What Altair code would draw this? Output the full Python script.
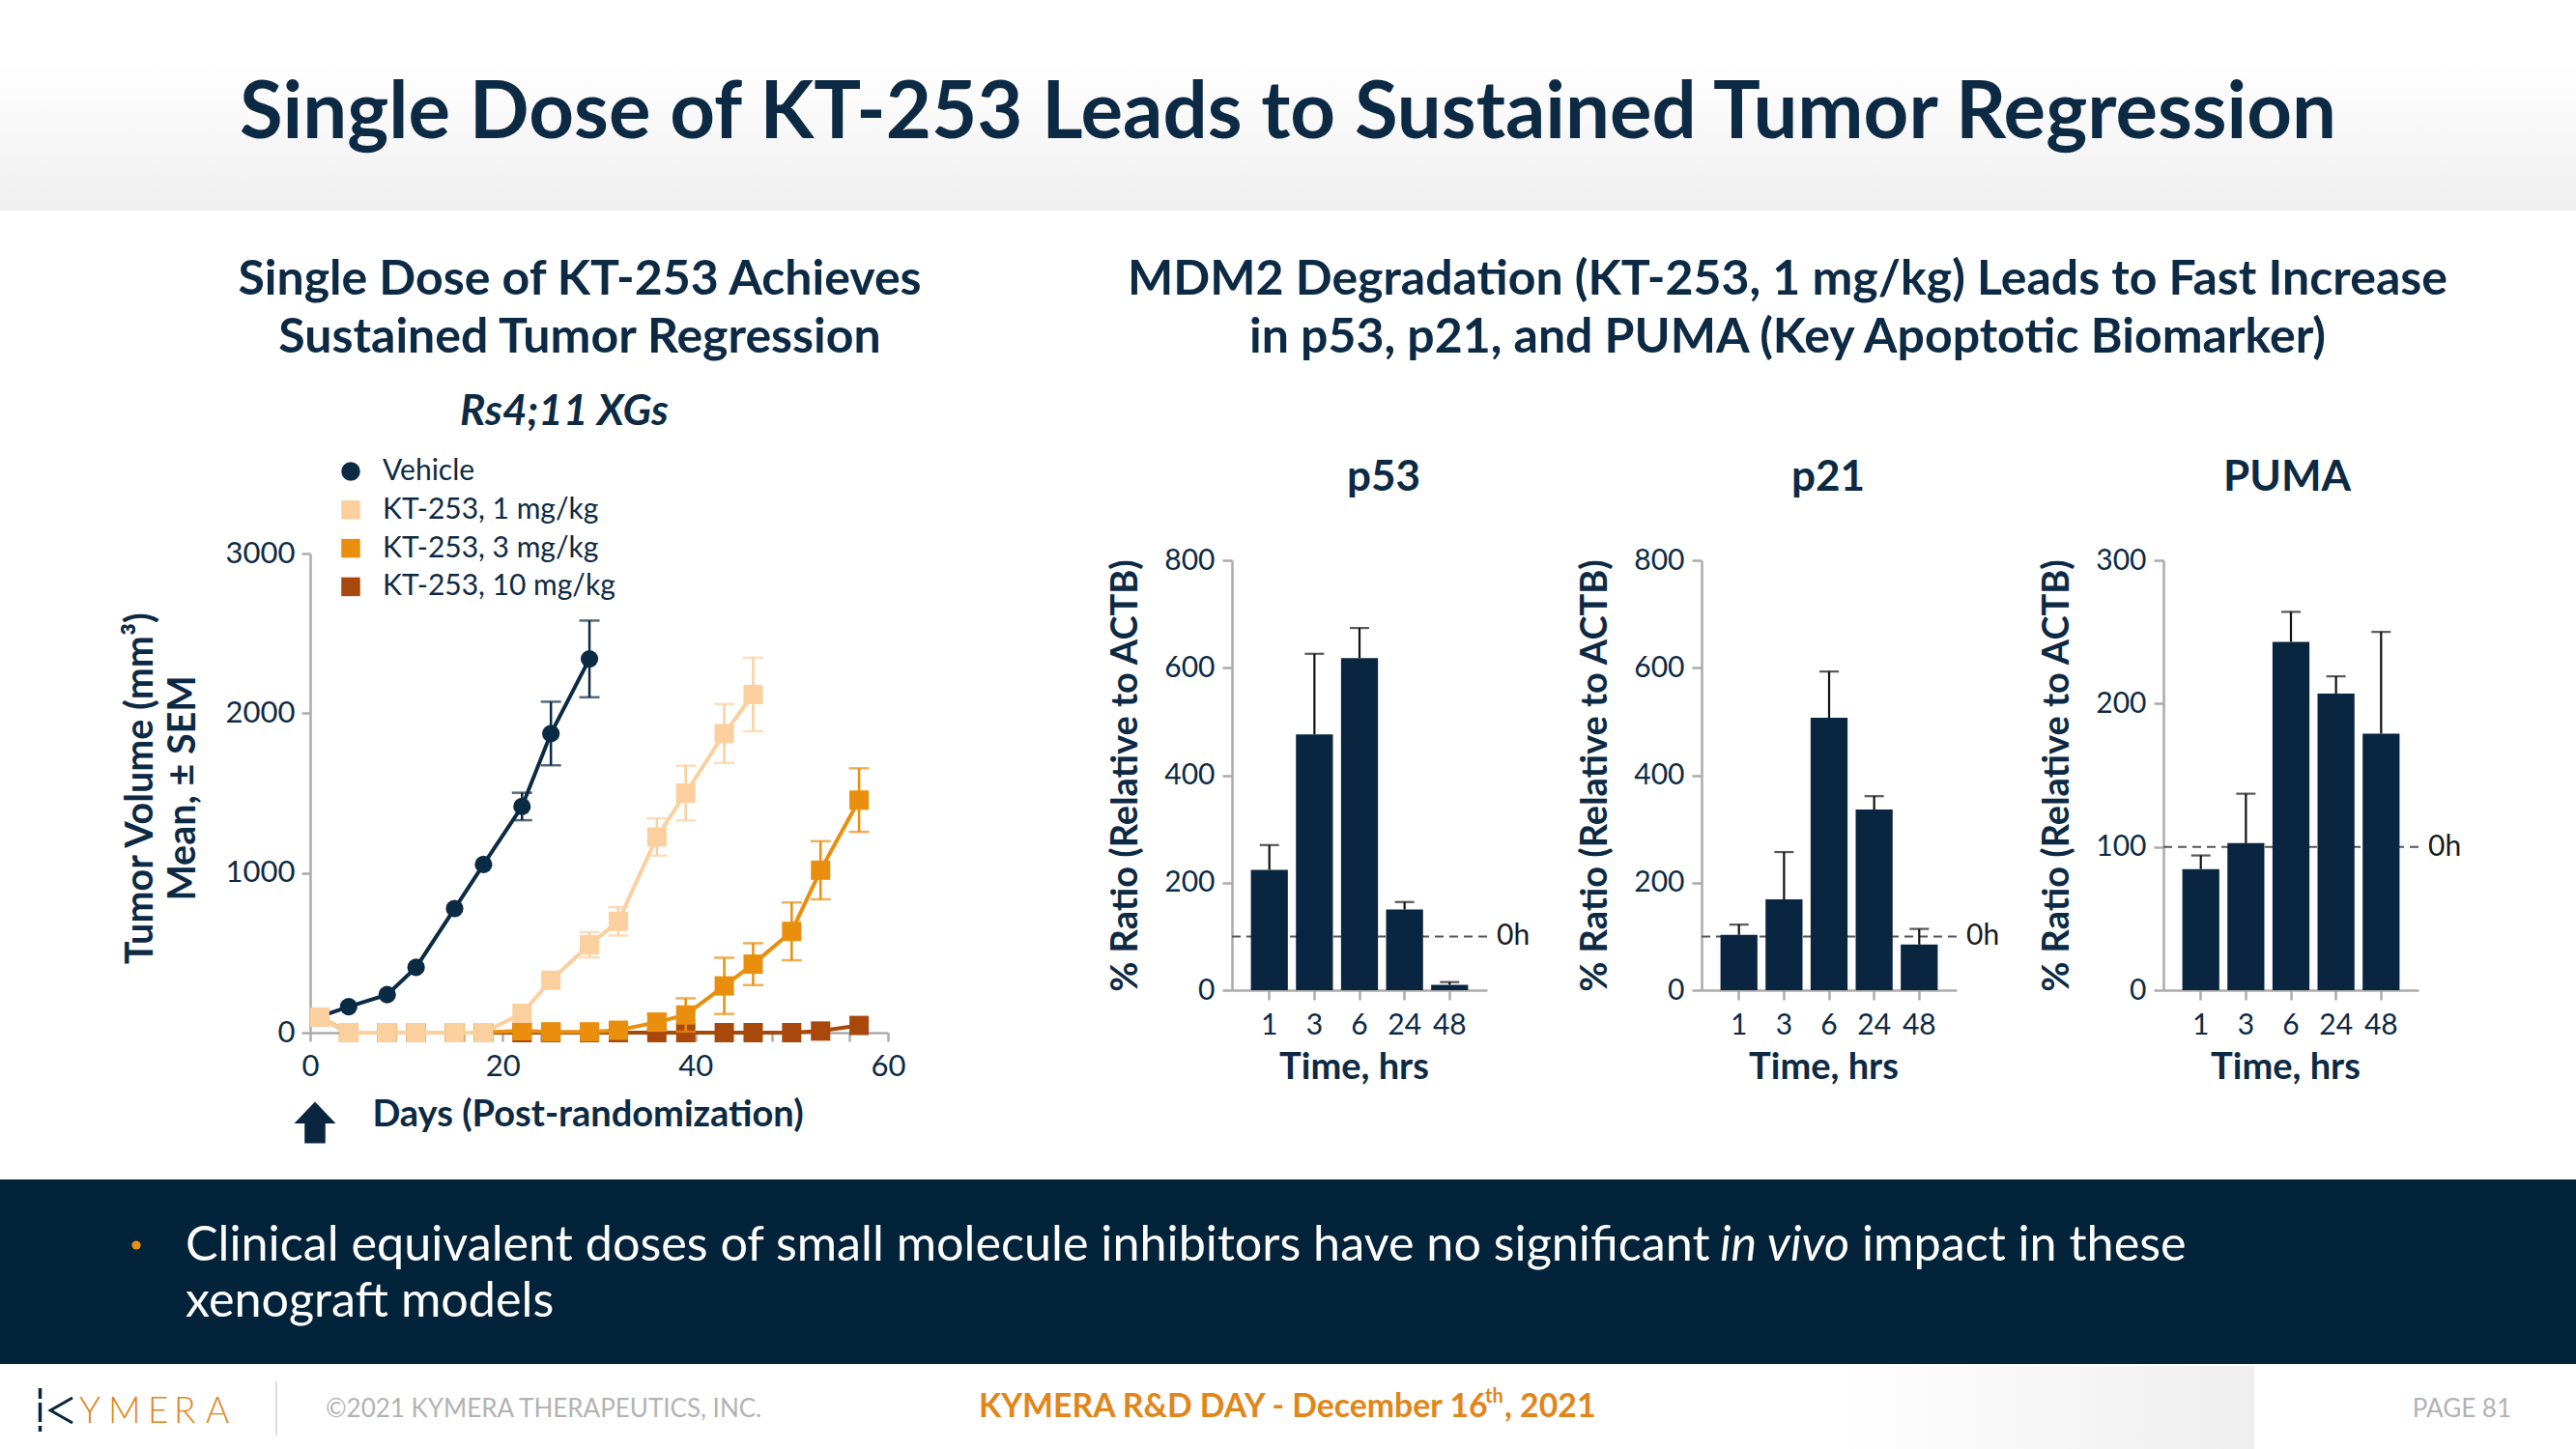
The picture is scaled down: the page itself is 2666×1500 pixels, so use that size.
import altair as alt
import pandas as pd

# ---------------- data ----------------
series_names = ["Vehicle", "KT-253, 1 mg/kg", "KT-253, 3 mg/kg", "KT-253, 10 mg/kg"]
series_colors = ["#0b2b45", "#fccf9e", "#e98f0d", "#a9480c"]
series_shapes = ["circle", "square", "square", "square"]

vehicle_days = [1, 4, 8, 11, 15, 18, 22, 25, 29]
vehicle_vol = [100, 163, 238, 409, 777, 1053, 1416, 1873, 2340]
vehicle_sem = [0, 0, 0, 0, 0, 0, 86, 199, 240]

mg1_days = [1, 4, 8, 11, 15, 18, 22, 25, 29, 32, 36, 39, 43, 46]
mg1_vol = [97, 0, 0, 0, 0, 0, 121, 328, 550, 697, 1225, 1500, 1873, 2117]
mg1_sem = [0, 0, 0, 0, 0, 0, 0, 0, 79, 89, 116, 171, 184, 230]

mg3_days = [1, 4, 8, 11, 15, 18, 22, 25, 29, 32, 36, 39, 43, 46, 50, 53, 57]
mg3_vol = [97, 0, 0, 0, 0, 0, 12, 5, 5, 15, 66, 111, 293, 429, 634, 1017, 1456]
mg3_sem = [0, 0, 0, 0, 0, 0, 0, 0, 0, 0, 50, 104, 176, 131, 181, 182, 199]

mg10_days = [1, 4, 8, 11, 15, 18, 22, 25, 29, 32, 36, 39, 43, 46, 50, 53, 57]
mg10_vol = [97, 0, 0, 0, 0, 0, 0, 0, 0, 0, 0, 0, 0, 0, 0, 10, 45]
mg10_sem = [0, 0, 0, 0, 0, 0, 0, 0, 0, 0, 0, 0, 0, 0, 0, 0, 0]

day_ticks = [0, 8, 16, 20, 24, 32, 40, 48, 56, 60]
vol_ticks = [0, 1000, 2000, 3000]

times = ["1", "3", "6", "24", "48"]
p53_vals = [224, 476, 618, 150, 10]
p53_sem = [46, 150, 56, 14, 5]
p21_vals = [103, 169, 507, 336, 85]
p21_sem = [19, 88, 86, 25, 29]
puma_vals = [84.5, 102.6, 243, 207, 179]
puma_sem = [9.5, 34.5, 21, 12, 71]
ticks_800 = [0, 200, 400, 600, 800]
ticks_300 = [0, 100, 200, 300]
baseline_0h = [100]

# ---------------- layout / style ----------------
W, H = 2666, 1500
NAVY = "#0d2a45"
BAR = "#0a2540"
BANNER = "#03233a"
GRAY = "#ababab"
ORANGE = "#e0861a"
FONT = "Lato"

LX0, LX1 = 321, 919
LY0, LY1 = 1069, 573
BY0, BY1 = 1025, 580
BW = 264

dummy = pd.DataFrame({"a": [0]})


def txt(text, x, y, size, weight="normal", style="normal", color=NAVY,
        align="center", baseline="alphabetic", angle=0, font=FONT):
    kw = dict(text=text, fontSize=size, fontWeight=weight, fontStyle=style,
              color=color, align=align, baseline=baseline, font=font)
    if angle:
        kw["angle"] = angle
    return alt.Chart(dummy).mark_text(**kw).encode(x=alt.value(x), y=alt.value(y))


# ---------------- left chart ----------------
xs_left = alt.Scale(domain=[0, 60], range=[LX0, LX1], nice=False, zero=False)
ys_left = alt.Scale(domain=[0, 3000], range=[LY0, LY1], nice=False, zero=False)
ax_x_left = alt.Axis(orient="bottom", offset=LY0 - H, values=day_ticks,
                     labelExpr="datum.value % 20 == 0 ? datum.label : ''",
                     labelFlush=False, grid=False, domainColor=GRAY, domainWidth=2.5,
                     tickColor=GRAY, tickWidth=2.5, tickSize=9, labelFont=FONT,
                     labelFontSize=31, labelColor=NAVY, labelPadding=11,
                     title="Days (Post-randomization)", titleFont=FONT, titleFontSize=38,
                     titleFontWeight="bold", titleColor=NAVY, titleX=608, titleY=96,
                     titleBaseline="alphabetic", titleAlign="center")
ax_y_left = alt.Axis(orient="left", offset=-LX0, values=vol_ticks, format="d",
                     labelFlush=False, grid=False, domainColor=GRAY, domainWidth=2.5,
                     tickColor=GRAY, tickWidth=2.5, tickSize=9, labelFont=FONT,
                     labelFontSize=31, labelColor=NAVY, labelPadding=7, title=None)
col_scale = alt.Scale(domain=series_names, range=series_colors)
shp_scale = alt.Scale(domain=series_names, range=series_shapes)
leg = alt.Legend(orient="none", legendX=348, legendY=473, title=None,
                 labelFont=FONT, labelFontSize=30, labelColor=NAVY, labelLimit=500,
                 symbolSize=380, rowPadding=9.8, labelOffset=18, padding=0,
                 symbolStrokeWidth=0)


def series_layers(name, days, vol, sem, size):
    color = series_colors[series_names.index(name)]
    df = pd.DataFrame({"day": days, "vol": vol, "sem": sem})
    df["lo"] = df["vol"] - df["sem"]
    df["hi"] = df["vol"] + df["sem"]
    df["series"] = name
    base = alt.Chart(df)
    X = alt.X("day:Q", scale=xs_left, axis=ax_x_left)
    err = base.transform_filter("datum.sem > 0")
    rule = err.mark_rule(color=color, strokeWidth=2.5).encode(
        x=X, y=alt.Y("lo:Q", scale=ys_left, axis=ax_y_left), y2="hi:Q")
    caps = err.transform_fold(["lo", "hi"], as_=["k", "v"]).mark_tick(
        color=color, orient="horizontal", size=21, thickness=2.5).encode(
        x=X, y=alt.Y("v:Q", scale=ys_left, axis=ax_y_left))
    line = base.mark_line(color=color, strokeWidth=4).encode(
        x=X, y=alt.Y("vol:Q", scale=ys_left, axis=ax_y_left))
    pts = base.mark_point(filled=True, opacity=1, size=size).encode(
        x=X, y=alt.Y("vol:Q", scale=ys_left, axis=ax_y_left),
        color=alt.Color("series:N", scale=col_scale, legend=leg),
        shape=alt.Shape("series:N", scale=shp_scale, legend=leg))
    return [rule, caps, line, pts]


left_layers = (series_layers(series_names[3], mg10_days, mg10_vol, mg10_sem, 400)
               + series_layers(series_names[2], mg3_days, mg3_vol, mg3_sem, 400)
               + series_layers(series_names[0], vehicle_days, vehicle_vol, vehicle_sem, 330)
               + series_layers(series_names[1], mg1_days, mg1_vol, mg1_sem, 400))
left_chart = alt.layer(*left_layers)


# ---------------- bar panels ----------------
def bar_panel(vals, sem, x0, ymax, yticks):
    df = pd.DataFrame({"time": times, "val": vals,
                       "hi": [v + s for v, s in zip(vals, sem)]})
    ref = pd.DataFrame({"ref": baseline_0h})
    xs = alt.Scale(domain=times, range=[x0, x0 + BW], paddingInner=0.18, paddingOuter=0.42)
    ys = alt.Scale(domain=[0, ymax], range=[BY0, BY1], nice=False, zero=False)
    ax_x = alt.Axis(orient="bottom", offset=BY0 - H, labelAngle=0, grid=False,
                    domainColor=GRAY, domainWidth=2.5, tickColor=GRAY, tickWidth=2.5,
                    tickSize=10, labelFont=FONT, labelFontSize=30, labelColor=NAVY,
                    labelPadding=11, title="Time, hrs", titleFont=FONT, titleFontSize=38,
                    titleFontWeight="bold", titleColor=NAVY, titleX=x0 + BW / 2 - 6,
                    titleY=91, titleBaseline="alphabetic", titleAlign="center")
    ax_y = alt.Axis(orient="left", offset=-x0, values=yticks, grid=False,
                    labelFlush=False, domainColor=GRAY, domainWidth=2.5, tickColor=GRAY,
                    tickWidth=2.5, tickSize=10, labelFont=FONT, labelFontSize=30,
                    labelColor=NAVY, labelPadding=8, title="% Ratio (Relative to ACTB)",
                    titleFont=FONT, titleFontSize=38, titleFontWeight="bold",
                    titleColor=NAVY, titleAngle=270, titleX=-110, titleY=(BY0 + BY1) / 2,
                    titleAlign="center", titleBaseline="middle")
    X = alt.X("time:N", sort=times, scale=xs, axis=ax_x)
    dash = alt.Chart(ref).mark_rule(strokeDash=[9, 6], color="#555555", strokeWidth=2).encode(
        y=alt.Y("ref:Q", scale=ys, axis=ax_y), x=alt.value(x0), x2=alt.value(x0 + BW))
    lab = alt.Chart(ref).mark_text(text="0h", align="left", baseline="middle", font=FONT,
                                   fontSize=30, color="#1a1a1a").encode(
        y=alt.Y("ref:Q", scale=ys, axis=ax_y), x=alt.value(x0 + BW + 10))
    bars = alt.Chart(df).mark_bar(color=BAR).encode(
        x=X, y=alt.Y("val:Q", scale=ys, axis=ax_y))
    erule = alt.Chart(df).mark_rule(color="#111111", strokeWidth=2.2).encode(
        x=X, y=alt.Y("val:Q", scale=ys, axis=ax_y), y2="hi:Q")
    cap = alt.Chart(df).mark_tick(color="#111111", orient="horizontal", size=20,
                                  thickness=2.2).encode(
        x=X, y=alt.Y("hi:Q", scale=ys, axis=ax_y))
    return alt.layer(dash, bars, erule, cap, lab)


p53_chart = bar_panel(p53_vals, p53_sem, 1275, 800, ticks_800)
p21_chart = bar_panel(p21_vals, p21_sem, 1761, 800, ticks_800)
puma_chart = bar_panel(puma_vals, puma_sem, 2239, 300, ticks_300)

# ---------------- decoration ----------------
header = alt.Chart(dummy).mark_rect(color=alt.LinearGradient(
    gradient="linear", x1=0, x2=0, y1=0, y2=1,
    stops=[alt.GradientStop(color="#ffffff", offset=0),
           alt.GradientStop(color="#ffffff", offset=0.3),
           alt.GradientStop(color="#efefef", offset=1)])).encode(
    x=alt.value(0), x2=alt.value(W), y=alt.value(0), y2=alt.value(218))

banner = alt.Chart(dummy).mark_rect(color=BANNER).encode(
    x=alt.value(0), x2=alt.value(W), y=alt.value(1221), y2=alt.value(1412))

foot_grad = alt.Chart(dummy).mark_rect(color=alt.LinearGradient(
    gradient="linear", x1=0, x2=1, y1=0, y2=0,
    stops=[alt.GradientStop(color="#ffffff", offset=0),
           alt.GradientStop(color="#eeeeee", offset=1)])).encode(
    x=alt.value(1905), x2=alt.value(2333), y=alt.value(1414), y2=alt.value(1500))

arrow = alt.Chart(dummy).mark_point(
    shape="M0,-1 L1,0.05 L0.5,0.05 L0.5,1 L-0.5,1 L-0.5,0.05 L-1,0.05 Z",
    filled=True, size=1850, color=BAR, opacity=1).encode(
    x=alt.value(326), y=alt.value(1162))

bullet = alt.Chart(dummy).mark_point(shape="circle", filled=True, size=85,
                                     color="#e8901a", opacity=1).encode(
    x=alt.value(141), y=alt.value(1289))

sep = alt.Chart(dummy).mark_rule(color="#dddddd", strokeWidth=2).encode(
    x=alt.value(286), y=alt.value(1430), y2=alt.value(1486))

logo_bar = alt.Chart(dummy).mark_rule(color=BAR, strokeWidth=3.5,
                                      strokeDash=[11, 4, 20, 4]).encode(
    x=alt.value(41.5), y=alt.value(1437), y2=alt.value(1482))
logo_k = alt.Chart(dummy).mark_point(shape="M1,-1 L-0.75,0 L1,1", filled=False,
                                     strokeWidth=3, size=680, color=BAR, opacity=1).encode(
    x=alt.value(62), y=alt.value(1460))
logo_letters = ["Y", "M", "E", "R", "A"]
logo_x = [82, 112, 153, 180, 213]
logo = [txt(l, x, 1473, 37, weight=300, color=ORANGE, align="left")
        for l, x in zip(logo_letters, logo_x)]

texts = [
    txt("Single Dose of KT-253 Leads to Sustained Tumor Regression", 1333, 143, 81.5, "bold"),
    txt("Single Dose of KT-253 Achieves", 600, 305, 50, "bold"),
    txt("Sustained Tumor Regression", 600, 365, 50, "bold"),
    txt("Rs4;11 XGs", 584, 440, 44, "bold", "italic"),
    txt("MDM2 Degradation (KT-253, 1 mg/kg) Leads to Fast Increase", 1850, 305, 50, "bold"),
    txt("in p53, p21, and PUMA (Key Apoptotic Biomarker)", 1850, 365, 50, "bold"),
    txt("p53", 1432, 508, 44, "bold"),
    txt("p21", 1892, 508, 44, "bold"),
    txt("PUMA", 2367, 508, 44, "bold"),
    txt("Tumor Volume (mm³)", 146, 816, 39.5, "bold", angle=270, baseline="middle"),
    txt("Mean, ± SEM", 190, 816, 39.5, "bold", angle=270, baseline="middle"),
    txt("Clinical equivalent doses of small molecule inhibitors have no significant",
        192, 1305, 50.3, color="white", align="left"),
    txt("in vivo", 1780, 1305, 50.3, style="italic", color="white", align="left"),
    txt("impact in these", 1927, 1305, 50.3, color="white", align="left"),
    txt("xenograft models", 192, 1363, 50.3, color="white", align="left"),
    txt("©2021 KYMERA THERAPEUTICS, INC.", 337, 1467, 26, color="#b3b3b3", align="left"),
    txt("KYMERA R&D DAY - December 16", 1013, 1467, 33.8, "bold", color=ORANGE, align="left"),
    txt("th", 1537, 1452, 20, "bold", color=ORANGE, align="left"),
    txt(", 2021", 1557, 1467, 33.8, "bold", color=ORANGE, align="left"),
    txt("PAGE 81", 2599, 1467, 26, color="#b3b3b3", align="right"),
]

chart = alt.layer(
    header, banner, foot_grad, left_chart, p53_chart, p21_chart, puma_chart,
    arrow, bullet, sep, logo_bar, logo_k, *logo, *texts
).resolve_scale(
    x="independent", y="independent"
).properties(
    width=W, height=H, autosize=alt.AutoSizeParams(type="none"), padding=0,
    background="white"
).configure_view(stroke=None)

chart.save("out.html", embed_options={"renderer": "svg", "actions": False})
